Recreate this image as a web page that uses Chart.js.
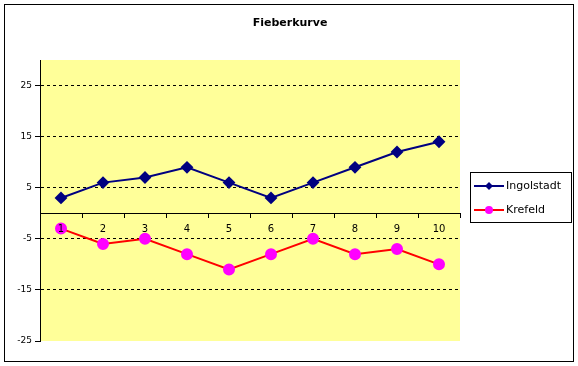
<!DOCTYPE html>
<html>
<head>
<meta charset="utf-8">
<script src="https://cdn.jsdelivr.net/npm/chart.js@4/dist/chart.umd.min.js"></script>
<style>
  html, body { margin: 0; padding: 0; background: #fff; }
  #wrap { width: 578px; height: 366px; }
</style>
</head>
<body>
<div id="wrap"><canvas id="fieberChart" width="578" height="366"></canvas></div>
<script>
const tage = ['1', '2', '3', '4', '5', '6', '7', '8', '9', '10'];
const ingolstadt = [3, 6, 7, 9, 6, 3, 6, 9, 12, 14];
const krefeld = [-3, -6, -5, -8, -11, -8, -5, -8, -7, -10];
const yTicks = [-25, -15, -5, 5, 15, 25];
const titel = 'Fieberkurve';

const fontFamily = 'Tahoma, "DejaVu Sans", sans-serif';

// yellow plot area, title and outer border
const frame = {
  id: 'frame',
  beforeDraw(chart) {
    const { ctx, chartArea: a } = chart;
    ctx.save();
    ctx.fillStyle = '#ffff99';
    ctx.fillRect(a.left, a.top, a.right - a.left, a.bottom - a.top);
    ctx.restore();
  },
  afterDraw(chart) {
    const ctx = chart.ctx;
    ctx.save();
    ctx.strokeStyle = '#000';
    ctx.lineWidth = 1;
    ctx.strokeRect(4.5, 4.5, 569, 357);
    ctx.fillStyle = '#000';
    ctx.font = 'bold 11px ' + fontFamily;
    ctx.textAlign = 'center';
    ctx.textBaseline = 'middle';
    ctx.fillText(titel, 290, 23);
    ctx.restore();
  }
};

// Excel style legend box on the right
const boxLegend = {
  id: 'boxLegend',
  afterDraw(chart) {
    const ctx = chart.ctx;
    const x = 470, y = 172, w = 101, h = 50;
    ctx.save();
    ctx.fillStyle = '#fff';
    ctx.fillRect(x, y, w, h);
    ctx.strokeStyle = '#000';
    ctx.lineWidth = 1;
    ctx.strokeRect(x + 0.5, y + 0.5, w, h);
    ctx.font = '11px ' + fontFamily;
    ctx.textBaseline = 'middle';
    chart.data.datasets.forEach((ds, i) => {
      const cy = y + 14 + i * 24;
      ctx.strokeStyle = ds.borderColor;
      ctx.lineWidth = 2;
      ctx.beginPath();
      ctx.moveTo(x + 4, cy);
      ctx.lineTo(x + 34, cy);
      ctx.stroke();
      ctx.fillStyle = ds.pointBackgroundColor;
      ctx.beginPath();
      if (ds.pointStyle === 'rectRot') {
        ctx.moveTo(x + 19, cy - 4);
        ctx.lineTo(x + 23, cy);
        ctx.lineTo(x + 19, cy + 4);
        ctx.lineTo(x + 15, cy);
        ctx.closePath();
      } else {
        ctx.arc(x + 19, cy, 4, 0, Math.PI * 2);
      }
      ctx.fill();
      ctx.fillStyle = '#000';
      ctx.fillText(ds.label, x + 36, cy);
    });
    ctx.restore();
  }
};

new Chart(document.getElementById('fieberChart'), {
  type: 'line',
  data: {
    labels: tage,
    datasets: [{
      label: 'Ingolstadt',
      data: ingolstadt,
      borderColor: '#000080',
      borderWidth: 2,
      pointStyle: 'rectRot',
      pointRadius: 5,
      pointBackgroundColor: '#000080',
      pointBorderColor: '#000080',
      tension: 0
    }, {
      label: 'Krefeld',
      data: krefeld,
      borderColor: '#ff0000',
      borderWidth: 2,
      pointStyle: 'circle',
      pointRadius: 5,
      pointBackgroundColor: '#ff00ff',
      pointBorderColor: '#ff00ff',
      tension: 0
    }]
  },
  options: {
    responsive: false,
    animation: false,
    layout: { padding: { top: 60, right: 118, bottom: 25, left: 0 } },
    plugins: {
      legend: { display: false },
      tooltip: { enabled: false },
      title: { display: false }
    },
    scales: {
      x: {
        position: { y: 0 },
        offset: true,
        border: { color: '#000', width: 1 },
        grid: { offset: true, drawOnChartArea: false, tickLength: 4, color: '#000' },
        ticks: { z: 1, color: '#000', font: { family: fontFamily, size: 10 }, padding: 6, maxRotation: 0 }
      },
      y: {
        min: -25,
        max: 30,
        afterBuildTicks(scale) {
          scale.ticks = yTicks.map(v => ({ value: v }));
        },
        afterFit(scale) { scale.width = 40; },
        border: { color: '#000', width: 1, dash: [3, 3] },
        grid: {
          color: ctx => (ctx.tick && ctx.tick.value === -25 ? 'rgba(0,0,0,0)' : '#000'),
          tickColor: '#000',
          tickBorderDash: [],
          tickLength: 5
        },
        ticks: { color: '#000', font: { family: fontFamily, size: 9 }, padding: 3 }
      }
    }
  },
  plugins: [frame, boxLegend]
});
</script>
</body>
</html>
